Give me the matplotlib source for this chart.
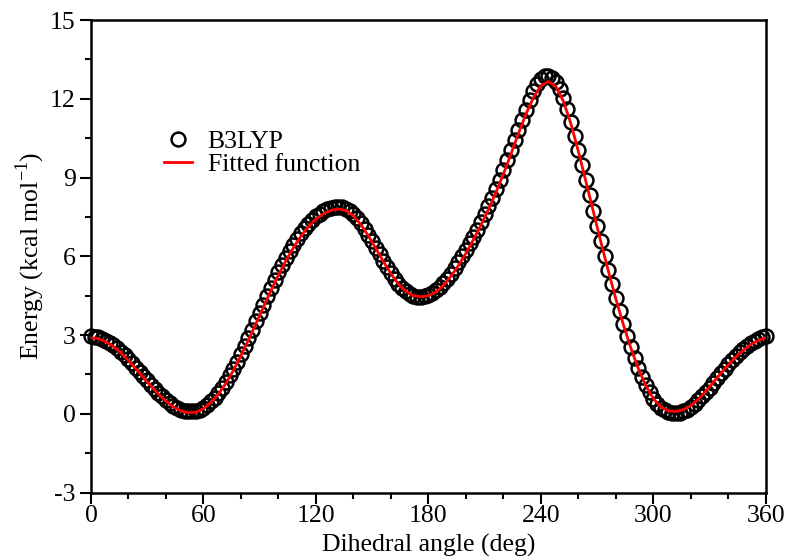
import numpy as np
import matplotlib
matplotlib.use("Agg")
import matplotlib.pyplot as plt

plt.rcParams['font.family'] = ['Liberation Serif', 'DejaVu Serif']
plt.rcParams['mathtext.fontset'] = 'custom'
plt.rcParams['mathtext.rm'] = 'Liberation Serif'
plt.rcParams['axes.unicode_minus'] = False

# B3LYP scan, every 2 deg from 0 to 360
angle_b3lyp = np.arange(0, 361, 2)
energy_b3lyp = [
    2.95, 2.94, 2.91, 2.86, 2.79, 2.71, 2.61, 2.50, 2.37, 2.23,   # 0-18
    2.08, 1.92, 1.76, 1.60, 1.43, 1.27, 1.11, 0.95, 0.80, 0.66,   # 20-38
    0.53, 0.41, 0.31, 0.23, 0.16, 0.12, 0.09, 0.09, 0.11, 0.16,   # 40-58
    0.24, 0.34, 0.47, 0.62, 0.80, 1.00, 1.22, 1.46, 1.72, 1.99,   # 60-78
    2.28, 2.58, 2.89, 3.20, 3.52, 3.84, 4.16, 4.48, 4.79, 5.10,   # 80-98
    5.39, 5.67, 5.94, 6.20, 6.44, 6.67, 6.88, 7.07, 7.24, 7.39,   # 100-118
    7.52, 7.63, 7.72, 7.79, 7.84, 7.87, 7.89, 7.87, 7.82, 7.73,   # 120-138
    7.60, 7.44, 7.25, 7.04, 6.81, 6.57, 6.32, 6.07, 5.83, 5.59,   # 140-158
    5.36, 5.15, 4.96, 4.80, 4.66, 4.56, 4.49, 4.45, 4.45, 4.47,   # 160-178
    4.52, 4.60, 4.70, 4.83, 4.98, 5.15, 5.34, 5.55, 5.77, 6.00,   # 180-198
    6.24, 6.49, 6.75, 7.02, 7.30, 7.60, 7.91, 8.23, 8.57, 8.92,   # 200-218
    9.28, 9.66, 10.04, 10.43, 10.82, 11.19, 11.57, 11.95, 12.30, 12.58,  # 220-238
    12.76, 12.86, 12.88, 12.80, 12.62, 12.36, 12.02, 11.60, 11.12, 10.60,  # 240-258
    10.05, 9.48, 8.90, 8.32, 7.74, 7.16, 6.59, 6.03, 5.48, 4.94,  # 260-278
    4.42, 3.92, 3.44, 2.98, 2.55, 2.14, 1.76, 1.41, 1.10, 0.82,   # 280-298
    0.58, 0.39, 0.24, 0.13, 0.06, 0.03, 0.03, 0.05, 0.09, 0.16,   # 300-318
    0.25, 0.37, 0.51, 0.66, 0.83, 1.00, 1.18, 1.36, 1.54, 1.72,   # 320-338
    1.89, 2.05, 2.20, 2.34, 2.47, 2.58, 2.68, 2.77, 2.85, 2.91,   # 340-358
    2.95,                                                         # 360
]

# fitted function, every 4 deg
angle_fit = np.arange(0, 361, 4)
energy_fit = [
    2.90, 2.86, 2.74, 2.56, 2.32, 2.03, 1.71, 1.38, 1.06, 0.75,   # 0-36
    0.48, 0.26, 0.11, 0.04, 0.06, 0.20, 0.43, 0.76, 1.17, 1.66,   # 40-76
    2.22, 2.82, 3.44, 4.07, 4.70, 5.29, 5.84, 6.33, 6.77, 7.13,   # 80-116
    7.42, 7.62, 7.75, 7.80, 7.74, 7.54, 7.20, 6.77, 6.29, 5.80,   # 120-156
    5.33, 4.94, 4.66, 4.50, 4.46, 4.50, 4.64, 4.90, 5.24, 5.65,   # 160-196
    6.12, 6.64, 7.19, 7.79, 8.44, 9.14, 9.90, 10.68, 11.42, 12.05,  # 200-236
    12.50, 12.66, 12.46, 11.90, 11.04, 9.98, 8.84, 7.68, 6.53, 5.42,  # 240-276
    4.36, 3.38, 2.49, 1.71, 1.06, 0.57, 0.26, 0.11, 0.09, 0.16,   # 280-316
    0.32, 0.56, 0.87, 1.21, 1.55, 1.88, 2.17, 2.43, 2.64, 2.80,   # 320-356
    2.90,                                                         # 360
]

fig = plt.figure(figsize=(7.87, 5.59), dpi=100)
ax = fig.add_axes([0.1156, 0.1188, 0.8577, 0.8454])

ax.plot(angle_b3lyp, energy_b3lyp, 'o', ms=10, mfc='none', mec='black',
        mew=1.8, label='B3LYP', clip_on=False, zorder=2)
ax.plot(angle_fit, energy_fit, '-', color='red', lw=2.0,
        label='Fitted function', zorder=3)

ax.set_xlim(0, 360)
ax.set_ylim(-3, 15)
ax.set_xticks(np.arange(0, 361, 60))
ax.set_xticks(np.arange(0, 361, 20), minor=True)
ax.set_yticks(np.arange(-3, 16, 3))
ax.set_yticks(np.arange(-3, 15.1, 1.5), minor=True)

ax.tick_params(which='both', direction='out', top=False, right=False,
               width=1.5, labelsize=18.5)
ax.tick_params(axis='x', pad=1)
ax.tick_params(axis='y', pad=3)
ax.tick_params(which='major', length=8)
ax.tick_params(which='minor', length=4.5)
for sp in ax.spines.values():
    sp.set_linewidth(1.8)

ax.set_xlabel('Dihedral angle (deg)', fontsize=18.5, labelpad=5)
ax.set_ylabel(r'Energy (kcal mol$^{\mathregular{-1}}$)', fontsize=18.5,
              labelpad=2)

ax.legend(loc='upper left', bbox_to_anchor=(0.108, 0.767), frameon=False,
          fontsize=18.5, handlelength=1.1, handletextpad=0.6,
          labelspacing=-0.02, borderpad=0, borderaxespad=0)

plt.savefig('out.png', dpi=100)
